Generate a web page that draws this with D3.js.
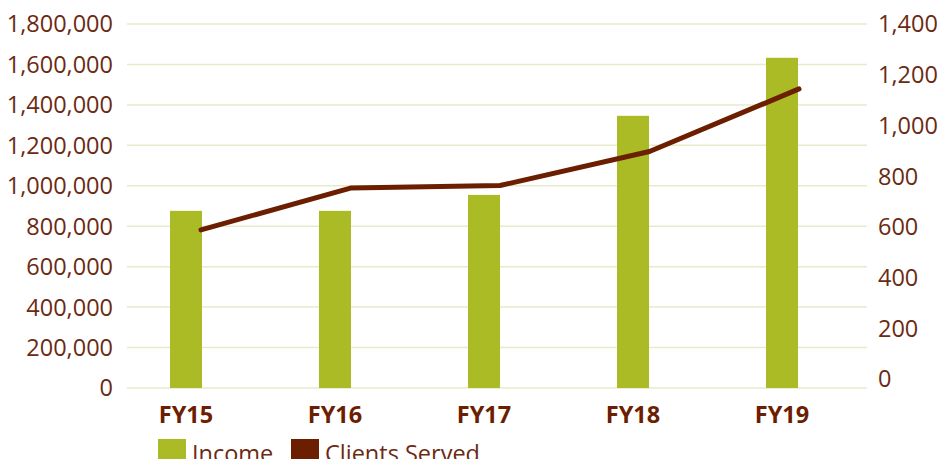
<!DOCTYPE html>
<html>
<head>
<meta charset="utf-8">
<script src="https://cdn.jsdelivr.net/npm/d3@7"></script>
<style>
    html, body { margin: 0; padding: 0; background: #fff; }
    svg { display: block; font-family: "Open Sans", sans-serif; }
</style>
</head>
<body>
<div id="chart"></div>
<script>
const categories = ["FY15", "FY16", "FY17", "FY18", "FY19"];
const income = [876000, 876000, 955000, 1346000, 1633000];
const clientsServed = [588, 753, 763, 897, 1144];
const incomeTicks = [0, 200000, 400000, 600000, 800000, 1000000, 1200000, 1400000, 1600000, 1800000];
const clientTicks = [0, 200, 400, 600, 800, 1000, 1200, 1400];
const legendItems = ["Income", "Clients Served"];

const width = 940, height = 459;
const green = "#aabb26", brown = "#6b1e00", textBrown = "#6b2a12", gridColor = "#e6ebc8";

const svg = d3.select("#chart")
    .append("svg")
    .attr("width", width)
    .attr("height", height);

const yLeft = d3.scaleLinear().domain([0, 1800000]).range([388, 24]);
const yRight = d3.scaleLinear().domain([0, 1400]).range([379, 24]);
const xBand = d3.scaleBand().domain(categories).range([111.5, 856.5]);
const xLine = d3.scalePoint().domain(categories).range([201, 799]);
const barWidth = 32;

// gridlines
svg.append("g")
    .selectAll("line")
    .data(incomeTicks)
    .join("line")
    .attr("x1", 127)
    .attr("x2", 867)
    .attr("y1", d => yLeft(d))
    .attr("y2", d => yLeft(d))
    .attr("stroke", gridColor)
    .attr("stroke-width", 1.5);

// left axis labels
const fmt = d3.format(",");
svg.append("g")
    .selectAll("text")
    .data(incomeTicks)
    .join("text")
    .attr("x", 113)
    .attr("y", d => yLeft(d))
    .attr("dy", "0.36em")
    .attr("text-anchor", "end")
    .attr("font-size", 23.5)
    .attr("fill", textBrown)
    .text(d => fmt(d));

// right axis labels
svg.append("g")
    .selectAll("text")
    .data(clientTicks)
    .join("text")
    .attr("x", 878)
    .attr("y", d => yRight(d))
    .attr("dy", "0.36em")
    .attr("text-anchor", "start")
    .attr("font-size", 23.5)
    .attr("fill", textBrown)
    .text(d => fmt(d));

// bars
svg.append("g")
    .selectAll("rect")
    .data(categories)
    .join("rect")
    .attr("x", (d) => xBand(d) + xBand.bandwidth() / 2 - barWidth / 2)
    .attr("y", (d, i) => yLeft(income[i]))
    .attr("width", barWidth)
    .attr("height", (d, i) => yLeft(0) - yLeft(income[i]))
    .attr("fill", green);

// line
const line = d3.line()
    .x((d, i) => xLine(categories[i]))
    .y(d => yRight(d));

svg.append("path")
    .datum(clientsServed)
    .attr("d", line)
    .attr("fill", "none")
    .attr("stroke", brown)
    .attr("stroke-width", 5)
    .attr("stroke-linecap", "round")
    .attr("stroke-linejoin", "round");

// category labels
svg.append("g")
    .selectAll("text")
    .data(categories)
    .join("text")
    .attr("x", d => xBand(d) + xBand.bandwidth() / 2)
    .attr("y", 423)
    .attr("text-anchor", "middle")
    .attr("font-size", 23.5)
    .attr("font-weight", "bold")
    .attr("fill", brown)
    .text(d => d);

// legend
const legend = svg.append("g");
const legendX = [158, 291];
const legendColors = [green, brown];
legend.selectAll("rect")
    .data(legendItems)
    .join("rect")
    .attr("x", (d, i) => legendX[i])
    .attr("y", 439)
    .attr("width", 28)
    .attr("height", 28)
    .attr("fill", (d, i) => legendColors[i]);

legend.selectAll("text")
    .data(legendItems)
    .join("text")
    .attr("x", (d, i) => legendX[i] + 34)
    .attr("y", 462)
    .attr("font-size", 23.5)
    .attr("fill", textBrown)
    .text(d => d);
</script>
</body>
</html>
